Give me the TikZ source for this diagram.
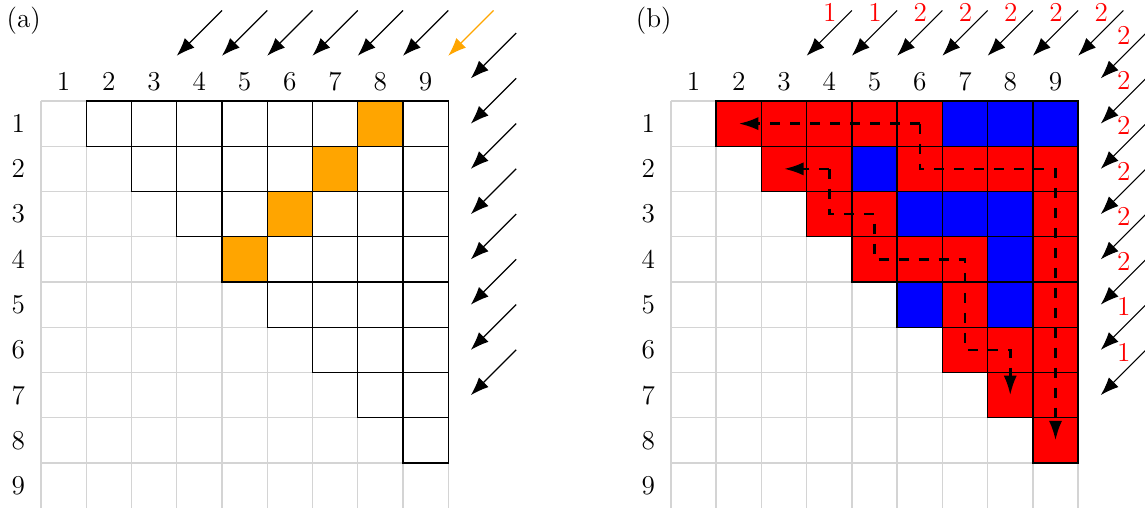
\documentclass[tikz,border=0pt]{standalone}
\usetikzlibrary{arrows.meta}
\definecolor{myorange}{RGB}{255,165,0}
\definecolor{gridgray}{RGB}{212,212,212}
\begin{document}
\begin{tikzpicture}[x=0.7cm,y=0.7cm,
  font=\fontsize{12}{14}\selectfont,
  lightgrid/.style={gridgray,line width=0.6pt},
  cellbox/.style={draw=black,line width=0.6pt},
  diagarrow/.style={line width=0.5pt,-{Latex[length=8pt,width=6pt]}},
  patharrow/.style={line width=1.1pt,dash pattern=on 4.4pt off 4.4pt,-{Latex[length=8.6pt,width=5.8pt]}},
  redlabel/.style={text=red,inner sep=0pt},
  idxlabel/.style={inner sep=0pt}]
\useasboundingbox (-0.906,-8.994) rectangle (24.398,2.232);

% ---------------- panel (a) ----------------
\begin{scope}
  \node[idxlabel] (la) at (-0.38,1.77) {(a)};
  \foreach \g in {0,...,9} {
    \draw[lightgrid] (\g,0) -- (\g,-9);
    \draw[lightgrid] (0,-\g) -- (9,-\g);
  }
  \foreach \c in {1,...,9} {
    \node[idxlabel] (ca\c) at (\c-0.5,0.43) {\c};
    \node[idxlabel] (ra\c) at (-0.5,-\c+0.5) {\c};
  }
  \foreach \i/\j in {1/8,2/7,3/6,4/5}
    \fill[myorange] (\j-1,-\i+1) rectangle (\j,-\i);
  \foreach \i in {1,...,8} {
    \pgfmathtruncatemacro\jstart{\i+1}
    \foreach \j in {\jstart,...,9}
      \draw[cellbox] (\j-1,-\i+1) rectangle (\j,-\i);
  }
  \foreach \k in {3,...,8} {
    \coordinate (ats\k) at (\k+1,2);
    \coordinate (ate\k) at (\k,1);
    \draw[diagarrow] (ats\k) -- (ate\k);
  }
  \coordinate (ats9) at (10,2);
  \coordinate (ate9) at (9,1);
  \draw[diagarrow,myorange] (ats9) -- (ate9);
  \foreach \m in {0,...,7} {
    \coordinate (ars\m) at (10.5,1.5-\m);
    \coordinate (are\m) at (9.5,0.5-\m);
    \draw[diagarrow] (ars\m) -- (are\m);
  }
\end{scope}

% ---------------- panel (b) ----------------
\begin{scope}[shift={(13.92,0)}]
  \node[idxlabel] (lb) at (-0.38,1.77) {(b)};
  \foreach \g in {0,...,9} {
    \draw[lightgrid] (\g,0) -- (\g,-9);
    \draw[lightgrid] (0,-\g) -- (9,-\g);
  }
  \foreach \c in {1,...,9} {
    \node[idxlabel] (cb\c) at (\c-0.5,0.43) {\c};
    \node[idxlabel] (rb\c) at (-0.5,-\c+0.5) {\c};
  }
  \foreach \i in {1,...,8} {
    \pgfmathtruncatemacro\jstart{\i+1}
    \foreach \j in {\jstart,...,9}
      \draw[cellbox,fill=red] (\j-1,-\i+1) rectangle (\j,-\i);
  }
  \foreach \i/\j in {1/7,1/8,1/9,2/5,3/6,3/7,3/8,4/8,5/6,5/8}
    \draw[cellbox,fill=blue] (\j-1,-\i+1) rectangle (\j,-\i);
  % top arrows with labels
  \foreach \k/\v in {3/1,4/1,5/2,6/2,7/2,8/2,9/2} {
    \coordinate (bts\k) at (\k+1,2);
    \coordinate (bte\k) at (\k,1);
    \draw[diagarrow] (bts\k) -- (bte\k);
    \node[redlabel] (btl\k) at (\k+0.51,1.95) {\v};
  }
  % right arrows with labels
  \foreach \m/\v in {0/2,1/2,2/2,3/2,4/2,5/2,6/1,7/1} {
    \coordinate (brs\m) at (10.5,1.5-\m);
    \coordinate (bre\m) at (9.5,0.5-\m);
    \draw[diagarrow] (brs\m) -- (bre\m);
    \node[redlabel] (brl\m) at (10.01,1.45-\m) {\v};
  }
  % dashed paths
  \coordinate (pa) at (5.5,-0.5);
  \coordinate (pa1) at (1.5,-0.5);
  \coordinate (pa2) at (8.5,-7.5);
  \draw[patharrow] (pa) -- (pa1);
  \draw[patharrow] (pa) -- (5.5,-1.5) -- (8.5,-1.5) -- (pa2);
  \coordinate (pb) at (3.5,-1.5);
  \coordinate (pb1) at (2.5,-1.5);
  \coordinate (pb2) at (7.5,-6.5);
  \draw[patharrow] (pb) -- (pb1);
  \draw[patharrow] (pb) -- (3.5,-2.5) -- (4.5,-2.5) -- (4.5,-3.5) -- (6.5,-3.5) -- (6.5,-5.5) -- (7.5,-5.5) -- (pb2);
\end{scope}
\end{tikzpicture}
\end{document}
